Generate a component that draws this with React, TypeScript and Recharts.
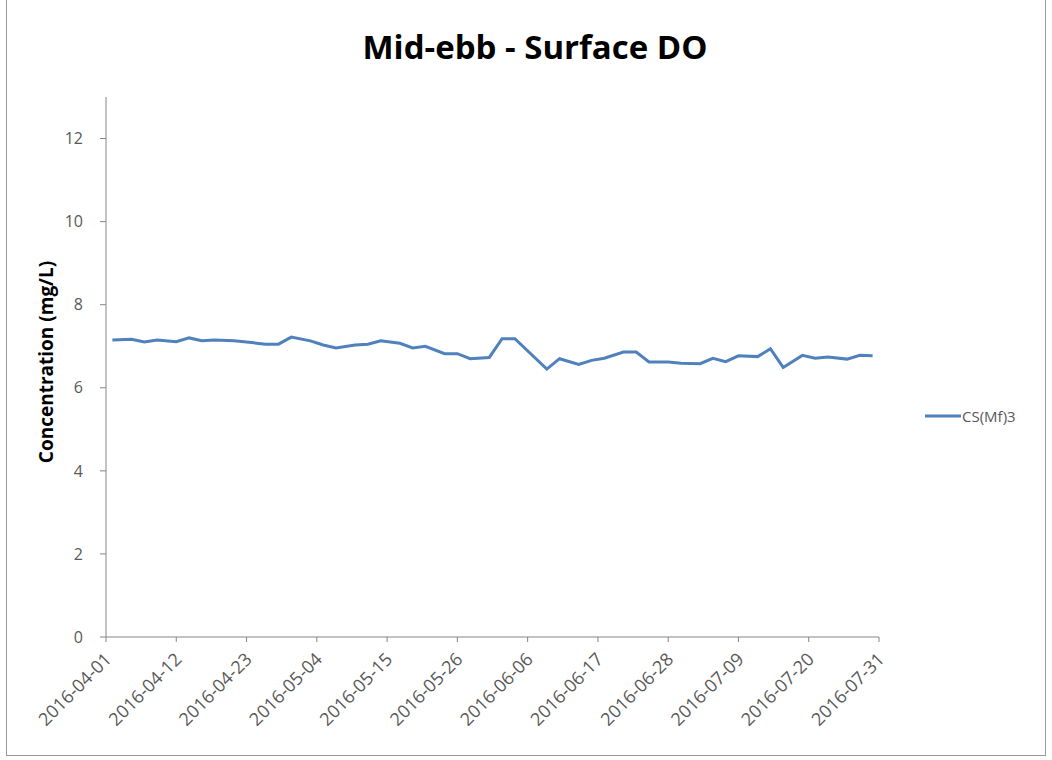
import React from "react";
import { LineChart, Line, XAxis, YAxis } from "recharts";

const dates = [
  "2016-04-02", "2016-04-05", "2016-04-07", "2016-04-09", "2016-04-12", "2016-04-14",
  "2016-04-16", "2016-04-18", "2016-04-21", "2016-04-23", "2016-04-26", "2016-04-28",
  "2016-04-30", "2016-05-03", "2016-05-05", "2016-05-07", "2016-05-10", "2016-05-12",
  "2016-05-14", "2016-05-17", "2016-05-19", "2016-05-21", "2016-05-24", "2016-05-26",
  "2016-05-28", "2016-05-31", "2016-06-02", "2016-06-04", "2016-06-09", "2016-06-11",
  "2016-06-14", "2016-06-16", "2016-06-18", "2016-06-21", "2016-06-23", "2016-06-25",
  "2016-06-28", "2016-06-30", "2016-07-03", "2016-07-05", "2016-07-07", "2016-07-09",
  "2016-07-12", "2016-07-14", "2016-07-16", "2016-07-19", "2016-07-21", "2016-07-23",
  "2016-07-26", "2016-07-28", "2016-07-30",
];

const csMf3 = [
  7.15, 7.17, 7.1, 7.15, 7.11, 7.2,
  7.13, 7.15, 7.13, 7.1, 7.05, 7.05,
  7.22, 7.13, 7.03, 6.96, 7.03, 7.05,
  7.13, 7.07, 6.96, 7.0, 6.82, 6.82,
  6.7, 6.73, 7.18, 7.18, 6.45, 6.7,
  6.56, 6.66, 6.71, 6.86, 6.86, 6.62,
  6.62, 6.59, 6.58, 6.71, 6.63, 6.77,
  6.75, 6.94, 6.49, 6.78, 6.71, 6.74,
  6.69, 6.78, 6.77,
];

const xTickLabels = [
  "2016-04-01", "2016-04-12", "2016-04-23", "2016-05-04", "2016-05-15", "2016-05-26",
  "2016-06-06", "2016-06-17", "2016-06-28", "2016-07-09", "2016-07-20", "2016-07-31",
];

const yTicks = [0, 2, 4, 6, 8, 10, 12];

const START = Date.UTC(2016, 3, 1);
const toDay = (s: string) => {
  const [y, m, d] = s.split("-").map(Number);
  return Math.round((Date.UTC(y, m - 1, d) - START) / 86400000);
};

const data = dates.map((d, i) => ({ day: toDay(d), value: csMf3[i] }));
const xTicks = xTickLabels.map(toDay);
const labelByDay: Record<number, string> = {};
xTickLabels.forEach((l) => (labelByDay[toDay(l)] = l));

const FONT = "'Open Sans', sans-serif";
const LINE_COLOR = "#4F81BD";
const AXIS_COLOR = "#868686";
const TEXT_COLOR = "#595959";

const XTick = (props: any) => {
  const { x, y, payload } = props;
  return (
    <g transform={`translate(${x + 2},${y + 12})`}>
      <text
        x={0}
        y={0}
        dy="0.35em"
        textAnchor="end"
        transform="rotate(-45)"
        fill={TEXT_COLOR}
        fontSize={18}
        fontFamily={FONT}
      >
        {labelByDay[payload.value] ?? ""}
      </text>
    </g>
  );
};

export default function App() {
  return (
    <div style={{ position: "relative", width: 1052, height: 760, background: "#fff", overflow: "hidden" }}>
      <style>{"body{margin:0;}"}</style>
      <div
        style={{
          position: "absolute",
          left: 6,
          top: -1,
          width: 1040,
          height: 757,
          border: "1px solid #9a9a9a",
          boxSizing: "border-box",
        }}
      />
      <div
        style={{
          position: "absolute",
          left: 535,
          top: 46,
          transform: "translate(-50%, -50%)",
          fontFamily: FONT,
          fontWeight: 700,
          fontSize: 33,
          color: "#000",
          whiteSpace: "nowrap",
        }}
      >
        Mid-ebb - Surface DO
      </div>
      <div
        style={{
          position: "absolute",
          left: 46,
          top: 362,
          transform: "translate(-50%, -50%) rotate(-90deg)",
          fontFamily: FONT,
          fontWeight: 700,
          fontSize: 19,
          color: "#000",
          whiteSpace: "nowrap",
        }}
      >
        Concentration (mg/L)
      </div>
      <div
        style={{
          position: "absolute",
          left: 925,
          top: 406,
          display: "flex",
          alignItems: "center",
          fontFamily: FONT,
          fontSize: 15,
          color: TEXT_COLOR,
        }}
      >
        <svg width={36} height={10}>
          <line x1={0} y1={5} x2={36} y2={5} stroke={LINE_COLOR} strokeWidth={3} />
        </svg>
        <span style={{ marginLeft: 1 }}>CS(Mf)3</span>
      </div>
      <div style={{ position: "absolute", left: 0, top: 0 }}>
        <LineChart width={1052} height={760} data={data} margin={{ top: 97, right: 173, bottom: 93, left: 56 }}>
          <XAxis
            dataKey="day"
            type="number"
            domain={[0, 121]}
            ticks={xTicks}
            interval={0}
            tick={<XTick />}
            tickLine={{ stroke: AXIS_COLOR }}
            tickSize={5}
            axisLine={{ stroke: AXIS_COLOR }}
            height={30}
          />
          <YAxis
            type="number"
            domain={[0, 13]}
            ticks={yTicks}
            interval={0}
            width={50}
            tickSize={6}
            tickMargin={17}
            tickLine={{ stroke: AXIS_COLOR }}
            axisLine={{ stroke: AXIS_COLOR }}
            tick={{ fill: TEXT_COLOR, fontSize: 16, fontFamily: FONT }}
          />
          <Line
            type="linear"
            dataKey="value"
            name="CS(Mf)3"
            stroke={LINE_COLOR}
            strokeWidth={3}
            dot={false}
            isAnimationActive={false}
          />
        </LineChart>
      </div>
    </div>
  );
}
